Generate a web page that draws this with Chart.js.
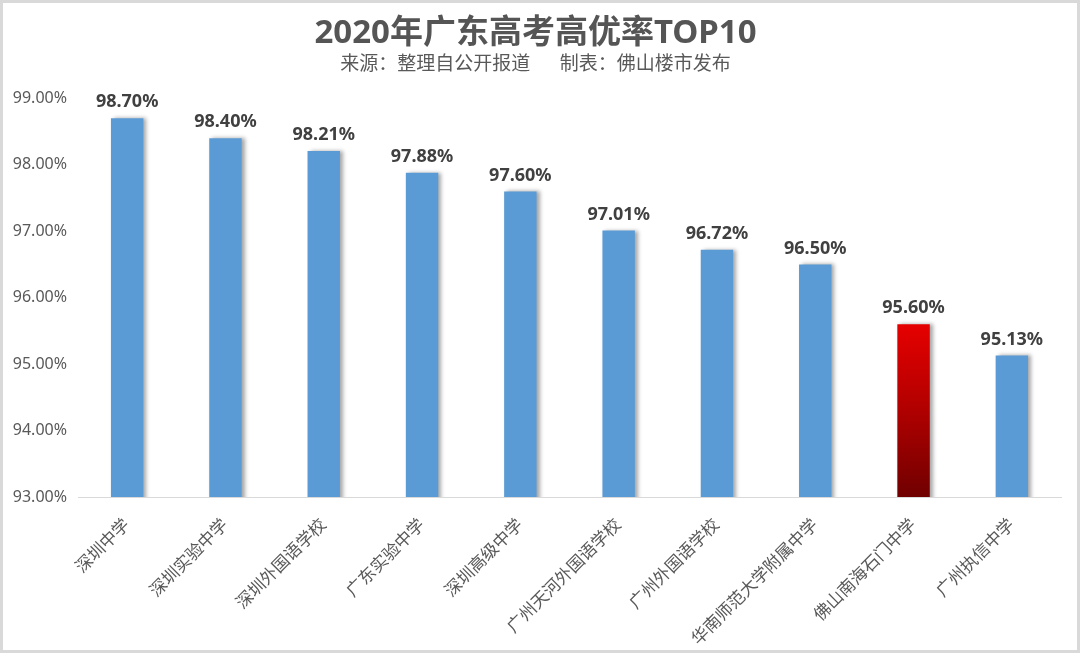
<!DOCTYPE html>
<html>
<head>
<meta charset="utf-8">
<script src="https://cdn.jsdelivr.net/npm/chart.js@4.4.0/dist/chart.umd.min.js"></script>
<style>
  body { margin: 0; background: #fff; }
  #wrap { width: 1080px; height: 653px; }
</style>
</head>
<body>
<div id="wrap"><canvas id="gaokaoChart" width="1080" height="653"></canvas></div>
<script>
const schools = ["深圳中学", "深圳实验中学", "深圳外国语学校", "广东实验中学", "深圳高级中学",
  "广州天河外国语学校", "广州外国语学校", "华南师范大学附属中学", "佛山南海石门中学", "广州执信中学"];
const rates = [98.70, 98.40, 98.21, 97.88, 97.60, 97.01, 96.72, 96.50, 95.60, 95.13];
const highlightSchool = "佛山南海石门中学";
const yTicks = [93, 94, 95, 96, 97, 98, 99];

const FONT = "'Noto Sans', 'Noto Sans CJK SC', sans-serif";

// red gradient for the highlighted bar, blue for the rest
function barColor(ctx) {
  const chart = ctx.chart;
  if (schools[ctx.dataIndex] !== highlightSchool) return "#5b9bd5";
  const area = chart.chartArea;
  const yScale = chart.scales.y;
  if (!area || !yScale) return "#c00000";
  let top = yScale.getPixelForValue(rates[ctx.dataIndex]);
  if (!isFinite(top)) top = area.top;
  const g = chart.ctx.createLinearGradient(0, top, 0, area.bottom);
  g.addColorStop(0, "#e60000");
  g.addColorStop(0.5, "#b00000");
  g.addColorStop(1, "#700000");
  return g;
}

const barShadow = {
  id: "barShadow",
  beforeDatasetsDraw(chart) {
    const c = chart.ctx;
    c.save();
    c.shadowColor = "rgba(0,0,0,0.35)";
    c.shadowBlur = 4;
    c.shadowOffsetX = 3;
    c.shadowOffsetY = 0;
  },
  afterDatasetsDraw(chart) {
    chart.ctx.restore();
  }
};

const valueLabels = {
  id: "valueLabels",
  afterDatasetsDraw(chart) {
    const c = chart.ctx;
    c.save();
    c.font = "bold 18px " + FONT;
    c.fillStyle = "#404040";
    c.textAlign = "center";
    c.textBaseline = "bottom";
    chart.getDatasetMeta(0).data.forEach((bar, i) => {
      c.fillText(rates[i].toFixed(2) + "%", bar.x, bar.y - 7);
    });
    c.restore();
  }
};

const frame = {
  id: "frame",
  afterDraw(chart) {
    const c = chart.ctx;
    c.save();
    c.strokeStyle = "#d9d9d9";
    c.lineWidth = 3;
    c.strokeRect(1.5, 1.5, chart.width - 3, chart.height - 3);
    c.restore();
  }
};

new Chart(document.getElementById("gaokaoChart").getContext("2d"), {
  type: "bar",
  data: {
    labels: schools,
    datasets: [{
      data: rates,
      backgroundColor: barColor,
      barPercentage: 0.33,
      categoryPercentage: 1
    }]
  },
  options: {
    responsive: false,
    animation: false,
    layout: { padding: { left: 10, right: 19, top: 0, bottom: 0 } },
    plugins: {
      legend: { display: false },
      tooltip: { enabled: false },
      title: {
        display: true,
        text: "2020年广东高考高优率TOP10",
        color: "#555555",
        font: { family: FONT, size: 33, weight: "bold" },
        padding: { top: 14, bottom: 0 }
      },
      subtitle: {
        display: true,
        text: "来源：整理自公开报道      制表：佛山楼市发布",
        color: "#595959",
        font: { family: FONT, size: 19 },
        padding: { top: 0, bottom: 22 }
      }
    },
    scales: {
      y: {
        min: 93,
        max: 99,
        afterBuildTicks: axis => { axis.ticks = yTicks.map(v => ({ value: v })); },
        afterFit: axis => { axis.width = 68; },
        grid: { display: false, drawTicks: false },
        border: { display: false },
        ticks: {
          color: "#595959",
          padding: 11,
          font: { family: FONT, size: 16 },
          callback: v => v.toFixed(2) + "%"
        }
      },
      x: {
        afterFit: axis => { axis.height = 156; },
        grid: { display: false, drawTicks: false },
        border: { color: "#d9d9d9", width: 1 },
        ticks: {
          color: "#595959",
          autoSkip: false,
          minRotation: 45,
          maxRotation: 45,
          padding: 18,
          font: { family: FONT, size: 17 }
        }
      }
    }
  },
  plugins: [barShadow, valueLabels, frame]
});
</script>
</body>
</html>
